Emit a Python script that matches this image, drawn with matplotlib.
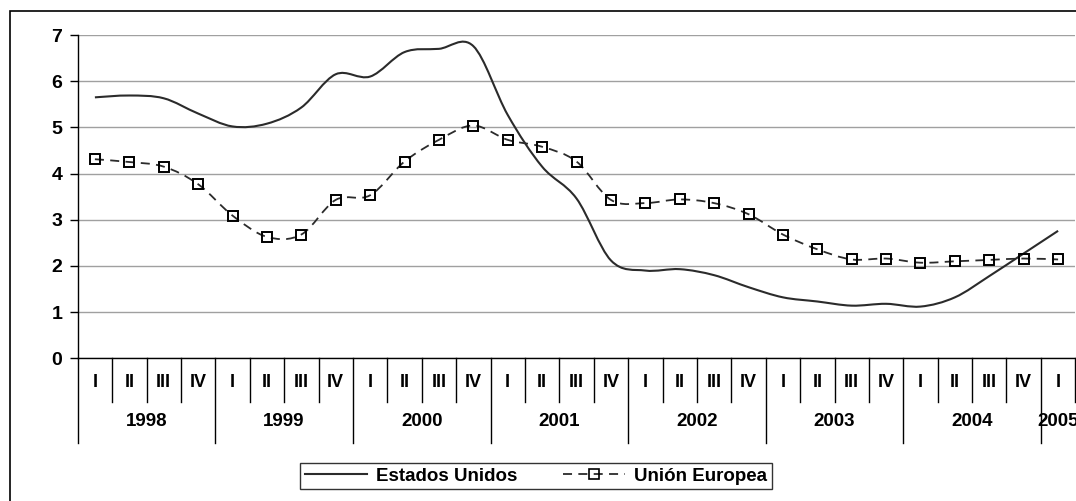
import matplotlib
matplotlib.use("Agg")
import matplotlib.pyplot as plt
from matplotlib.path import Path
from matplotlib.patches import PathPatch, Rectangle
from matplotlib.lines import Line2D

plt.rcParams['font.family'] = ['Liberation Sans', 'DejaVu Sans']
plt.rcParams['font.weight'] = 'bold'

years = ['1998', '1999', '2000', '2001', '2002', '2003', '2004', '2005']
quarters = ['I', 'II', 'III', 'IV'] * 7 + ['I']
estados_unidos = [5.65, 5.69, 5.63, 5.30, 5.02, 5.08, 5.43, 6.15, 6.10, 6.63,
                  6.70, 6.76, 5.27, 4.15, 3.46, 2.12, 1.90, 1.93, 1.80, 1.54,
                  1.32, 1.23, 1.14, 1.18, 1.12, 1.32, 1.78, 2.27, 2.76]
union_europea = [4.31, 4.25, 4.15, 3.77, 3.09, 2.63, 2.68, 3.43, 3.53, 4.26,
                 4.73, 5.04, 4.73, 4.58, 4.26, 3.43, 3.36, 3.44, 3.36, 3.12,
                 2.68, 2.36, 2.14, 2.16, 2.07, 2.10, 2.13, 2.16, 2.14]

W, H = 1076, 501
fig = plt.figure(figsize=(W / 100, H / 100), dpi=100)
ax_left, ax_right = 77.7 / W, 1075.3 / W
ax_top, ax_bot = 1 - 35 / H, 1 - 358.3 / H
ax = fig.add_axes([ax_left, ax_bot, ax_right - ax_left, ax_top - ax_bot])

n = len(quarters)
xs = list(range(n))


def smooth_path(x, y):
    verts = [(x[0], y[0])]
    codes = [Path.MOVETO]
    m = len(x)
    for i in range(m - 1):
        p0 = i - 1 if i > 0 else i
        p3 = i + 2 if i + 2 < m else i + 1
        c1 = (x[i] + (x[i + 1] - x[p0]) / 6, y[i] + (y[i + 1] - y[p0]) / 6)
        c2 = (x[i + 1] - (x[p3] - x[i]) / 6, y[i + 1] - (y[p3] - y[i]) / 6)
        verts += [c1, c2, (x[i + 1], y[i + 1])]
        codes += [Path.CURVE4] * 3
    return Path(verts, codes)


line_col = '#2b2b2b'
ax.add_patch(PathPatch(smooth_path(xs, estados_unidos), fill=False,
                       edgecolor=line_col, lw=1.5, zorder=3))
ax.add_patch(PathPatch(smooth_path(xs, union_europea), fill=False,
                       edgecolor=line_col, lw=1.3, linestyle=(0, (5, 3.5)), zorder=3))
ax.plot(xs, union_europea, linestyle='none', marker='s', markersize=7.5,
        markerfacecolor='none', markeredgecolor='black', markeredgewidth=1.4, zorder=4)

ax.set_xlim(-0.5, n - 0.5)
ax.set_ylim(0, 7)
ax.set_yticks(range(0, 8))
ax.yaxis.grid(True, color='#a0a0a0', lw=1)
ax.set_axisbelow(True)
ax.tick_params(axis='y', direction='out', length=5.5, width=1, pad=5.5,
               labelsize=14, color='black')
for lab in ax.get_yticklabels():
    lab.set_fontweight('bold')
ax.set_xticks([])
for s in ['top', 'right']:
    ax.spines[s].set_visible(False)
for s in ['left', 'bottom']:
    ax.spines[s].set_color('black')
    ax.spines[s].set_linewidth(1)

# category axis
trans = ax.get_xaxis_transform()
q_end, y_end = -0.135, -0.262
for b in range(n + 1):
    xb = b - 0.5
    yb = y_end if b % 4 == 0 and b < n else q_end
    ax.add_line(Line2D([xb, xb], [0, yb], transform=trans, color='black',
                       lw=1, clip_on=False))
for i, q in enumerate(quarters):
    ax.text(i, -0.076, q, transform=trans, ha='center', va='center',
            fontsize=13, fontweight='bold')
for k, yr in enumerate(years):
    start = k * 4
    cnt = min(4, n - start)
    xc = start - 0.5 + cnt / 2
    ax.text(xc, -0.197, yr, transform=trans, ha='center', va='center',
            fontsize=13.5, fontweight='bold')

# legend
h1 = Line2D([], [], color=line_col, lw=1.5)
h2 = Line2D([], [], color=line_col, lw=1.3, linestyle=(0, (5, 3.5)), marker='s',
            markersize=6.5, markerfacecolor='none', markeredgecolor='black',
            markeredgewidth=1.2)
leg = fig.legend([h1, h2], ['Estados Unidos', 'Unión Europea'], loc='center',
                 bbox_to_anchor=(536 / W, 1 - 476 / H), ncol=2, frameon=True,
                 fancybox=False, edgecolor='black',
                 handlelength=3.3, handletextpad=0.5, columnspacing=2.4,
                 borderpad=0.25, borderaxespad=0, numpoints=1,
                 prop={'weight': 'bold', 'size': 13.5})
leg.get_frame().set_linewidth(1)

# outer frame (chart area border, cut at right and bottom)
fig.add_artist(Rectangle((9.5 / W, -0.1), 1.2, (1 - 10.5 / H) + 0.1,
                         transform=fig.transFigure, fill=False,
                         edgecolor='black', lw=1.2))

fig.savefig('out.png', dpi=100)
